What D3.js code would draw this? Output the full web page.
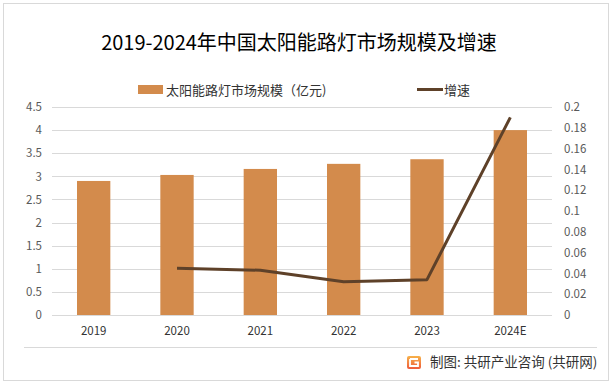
<!DOCTYPE html>
<html><head><meta charset="utf-8">
<script src="https://cdn.jsdelivr.net/npm/d3@7"></script>
<style>body{margin:0;background:#fff;}svg{display:block;}</style>
</head><body>
<script>
const categories = ["2019","2020","2021","2022","2023","2024E"];
const marketSize = [2.90, 3.03, 3.16, 3.27, 3.37, 4.00];
const growthYears = ["2020","2021","2022","2023","2024E"];
const growthRate = [0.045, 0.043, 0.032, 0.034, 0.190];
const leftTicks = [0,0.5,1,1.5,2,2.5,3,3.5,4,4.5];
const rightTicks = [0,0.02,0.04,0.06,0.08,0.1,0.12,0.14,0.16,0.18,0.2];
const title = "2019-2024年中国太阳能路灯市场规模及增速";
const barLabel = "太阳能路灯市场规模（亿元)";
const lineLabel = "增速";
const source = "制图: 共研产业咨询 (共研网)";

const W = 613, H = 386;
const font = "'Noto Sans CJK SC','Microsoft YaHei',sans-serif";
const svg = d3.select("body").append("svg").attr("width", W).attr("height", H);

svg.append("rect").attr("x",3.5).attr("y",3.5).attr("width",605).attr("height",377)
  .attr("fill","#fff").attr("stroke","#d9d9d9").attr("stroke-width",1);

const x0 = 52, x1 = 552, yTop = 107, yBot = 315;
const x = d3.scaleBand().domain(categories).range([x0, x1]).paddingInner(0.6).paddingOuter(0.3);
const yL = d3.scaleLinear().domain([0,4.5]).range([yBot, yTop]);
const yR = d3.scaleLinear().domain([0,0.2]).range([yBot, yTop]);

// gridlines
svg.append("g").selectAll("line").data(leftTicks).join("line")
  .attr("x1", x0).attr("x2", x1)
  .attr("y1", d => Math.round(yL(d))+0.5).attr("y2", d => Math.round(yL(d))+0.5)
  .attr("stroke", "#d9d9d9").attr("stroke-width", 1);

// left axis
const axL = svg.append("g").attr("transform", `translate(${x0},0)`)
  .call(d3.axisLeft(yL).tickValues(leftTicks).tickSize(0).tickPadding(10).tickFormat(d3.format("")));
axL.select(".domain").remove();
axL.selectAll("text").attr("fill","#595959").style("font-family",font).style("font-size","11.5px");

// right axis
const axR = svg.append("g").attr("transform", `translate(${x1},0)`)
  .call(d3.axisRight(yR).tickValues(rightTicks).tickSize(0).tickPadding(12).tickFormat(d3.format("")));
axR.select(".domain").remove();
axR.selectAll("text").attr("fill","#595959").style("font-family",font).style("font-size","11.5px");

// bars
svg.append("g").selectAll("rect").data(categories).join("rect")
  .attr("x", d => x(d)).attr("width", x.bandwidth())
  .attr("y", (d,i) => yL(marketSize[i])).attr("height", (d,i) => yBot - yL(marketSize[i]))
  .attr("fill", "#D38B4C");

// x axis labels
const axB = svg.append("g").attr("transform", `translate(0,${yBot})`)
  .call(d3.axisBottom(x).tickSize(0).tickPadding(12));
axB.select(".domain").remove();
axB.selectAll("text").attr("fill","#333").style("font-family",font).style("font-size","11.5px");

// line
const line = d3.line().x((d,i) => x(growthYears[i]) + x.bandwidth()/2).y(d => yR(d));
svg.append("path").datum(growthRate).attr("d", line)
  .attr("fill","none").attr("stroke","#5E4129").attr("stroke-width",3).attr("stroke-linejoin","round");

// title
svg.append("text").attr("x", 299).attr("y", 50).attr("text-anchor","middle")
  .style("font-family",font).style("font-size","20px").attr("fill","#000").text(title);

// legend
svg.append("rect").attr("x",138).attr("y",85).attr("width",25).attr("height",9).attr("fill","#D38B4C");
svg.append("text").attr("x",166).attr("y",94.5).style("font-family",font).style("font-size","13px")
  .attr("fill","#333").text(barLabel);
svg.append("line").attr("x1",417).attr("x2",443).attr("y1",89.5).attr("y2",89.5)
  .attr("stroke","#5E4129").attr("stroke-width",3);
svg.append("text").attr("x",444).attr("y",94.5).style("font-family",font).style("font-size","13px")
  .attr("fill","#333").text(lineLabel);

// separator + source
svg.append("line").attr("x1",24).attr("x2",597).attr("y1",347.5).attr("y2",347.5)
  .attr("stroke","#d9d9d9").attr("stroke-width",1);
const g = svg.append("g").attr("transform","translate(407,356)");
const grad = svg.append("defs").append("linearGradient").attr("id","lg").attr("x1",0).attr("y1",0).attr("x2",0).attr("y2",1);
grad.append("stop").attr("offset","0%").attr("stop-color","#F7B24A");
grad.append("stop").attr("offset","100%").attr("stop-color","#EE5A3A");
g.append("rect").attr("width",14).attr("height",13).attr("rx",2).attr("fill","url(#lg)");
g.append("path").attr("d","M3 3 H11 M3 3 V10 H11 V6.5 H7.5").attr("fill","none").attr("stroke","#fff").attr("stroke-width",1.8);
svg.append("text").attr("x",430).attr("y",367).style("font-family",font).style("font-size","13.5px")
  .attr("fill","#333").text(source);
</script>
</body></html>
